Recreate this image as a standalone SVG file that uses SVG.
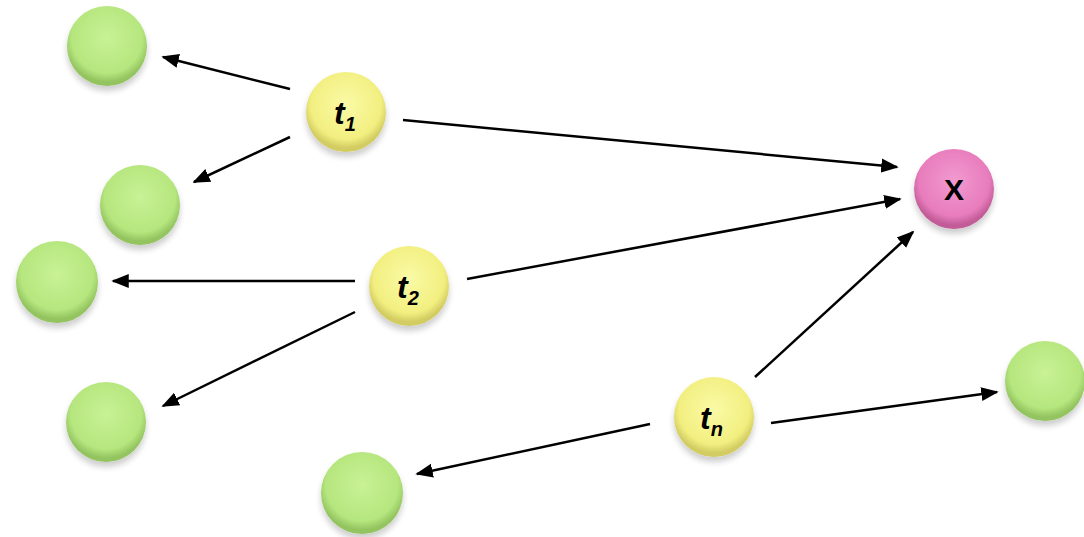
<svg xmlns="http://www.w3.org/2000/svg" width="1084" height="537" viewBox="0 0 1084 537">
  <defs>
    <radialGradient id="gGreen" cx="50%" cy="40%" r="55%">
      <stop offset="0" stop-color="#c8f296"/>
      <stop offset="0.8" stop-color="#b6e67e"/>
      <stop offset="1" stop-color="#94c460"/>
    </radialGradient>
    <radialGradient id="gYellow" cx="50%" cy="40%" r="55%">
      <stop offset="0" stop-color="#fafaa6"/>
      <stop offset="0.8" stop-color="#f2ef80"/>
      <stop offset="1" stop-color="#d2cc62"/>
    </radialGradient>
    <radialGradient id="gPink" cx="50%" cy="40%" r="55%">
      <stop offset="0" stop-color="#f29ad0"/>
      <stop offset="0.8" stop-color="#e87cbc"/>
      <stop offset="1" stop-color="#c25c98"/>
    </radialGradient>
    <filter id="shadow" x="-30%" y="-30%" width="160%" height="170%">
      <feGaussianBlur in="SourceAlpha" stdDeviation="3"/>
      <feOffset dx="0" dy="5" result="b"/>
      <feComponentTransfer><feFuncA type="linear" slope="0.2"/></feComponentTransfer>
      <feMerge><feMergeNode/><feMergeNode in="SourceGraphic"/></feMerge>
    </filter>
    <marker id="arrow" viewBox="0 0 10 10" refX="9" refY="5" markerWidth="7" markerHeight="7" markerUnits="strokeWidth" orient="auto">
      <path d="M0,1 L10,5 L0,9 Z" fill="#000"/>
    </marker>
  </defs>
  <style>
    .green { fill: url(#gGreen); filter: url(#shadow); }
    .yellow { fill: url(#gYellow); filter: url(#shadow); }
    .pink { fill: url(#gPink); filter: url(#shadow); }
    .lbl { font-family: "Liberation Sans", Arial, sans-serif; font-weight: bold; font-style: italic; font-size: 32px; fill: #000; }
    .sub { font-size: 20px; }
    .x { font-family: "Liberation Sans", Arial, sans-serif; font-weight: bold; font-size: 30px; fill: #000; }
    .edge { stroke: #000; stroke-width: 2.5; fill: none; marker-end: url(#arrow); }
  </style>

  <!-- leaf nodes -->
  <g id="leaf1"><circle class="green" cx="107" cy="46" r="40"/></g>
  <g id="leaf2"><circle class="green" cx="140" cy="205" r="40"/></g>
  <g id="leaf3"><circle class="green" cx="57" cy="282" r="41"/></g>
  <g id="leaf4"><circle class="green" cx="106" cy="422" r="40"/></g>
  <g id="leaf5"><circle class="green" cx="362" cy="493" r="41"/></g>
  <g id="leaf6"><circle class="green" cx="1045" cy="381" r="40"/></g>

  <!-- term nodes -->
  <g id="t1">
    <circle class="yellow" cx="346" cy="112" r="40"/>
    <text class="lbl" x="334" y="124">t<tspan class="sub" dy="7">1</tspan></text>
  </g>
  <g id="t2">
    <circle class="yellow" cx="409" cy="286" r="40"/>
    <text class="lbl" x="397" y="298">t<tspan class="sub" dy="7">2</tspan></text>
  </g>
  <g id="tn">
    <circle class="yellow" cx="714" cy="417" r="40"/>
    <text class="lbl" x="700" y="429">t<tspan class="sub" dy="7">n</tspan></text>
  </g>

  <!-- target node -->
  <g id="x">
    <circle class="pink" cx="954" cy="189" r="40"/>
    <text class="x" x="954" y="200" text-anchor="middle">X</text>
  </g>

  <!-- connectors -->
  <g id="edges">
    <line class="edge" x1="290" y1="89" x2="163" y2="57"/>
    <line class="edge" x1="290" y1="137" x2="194" y2="182"/>
    <line class="edge" x1="403" y1="120" x2="897" y2="167"/>
    <line class="edge" x1="355" y1="281" x2="113" y2="281"/>
    <line class="edge" x1="355" y1="312" x2="163" y2="406"/>
    <line class="edge" x1="467" y1="279" x2="900" y2="199"/>
    <line class="edge" x1="755" y1="377" x2="913" y2="232"/>
    <line class="edge" x1="650" y1="424" x2="417" y2="474"/>
    <line class="edge" x1="771" y1="423" x2="997" y2="392"/>
  </g>
</svg>
